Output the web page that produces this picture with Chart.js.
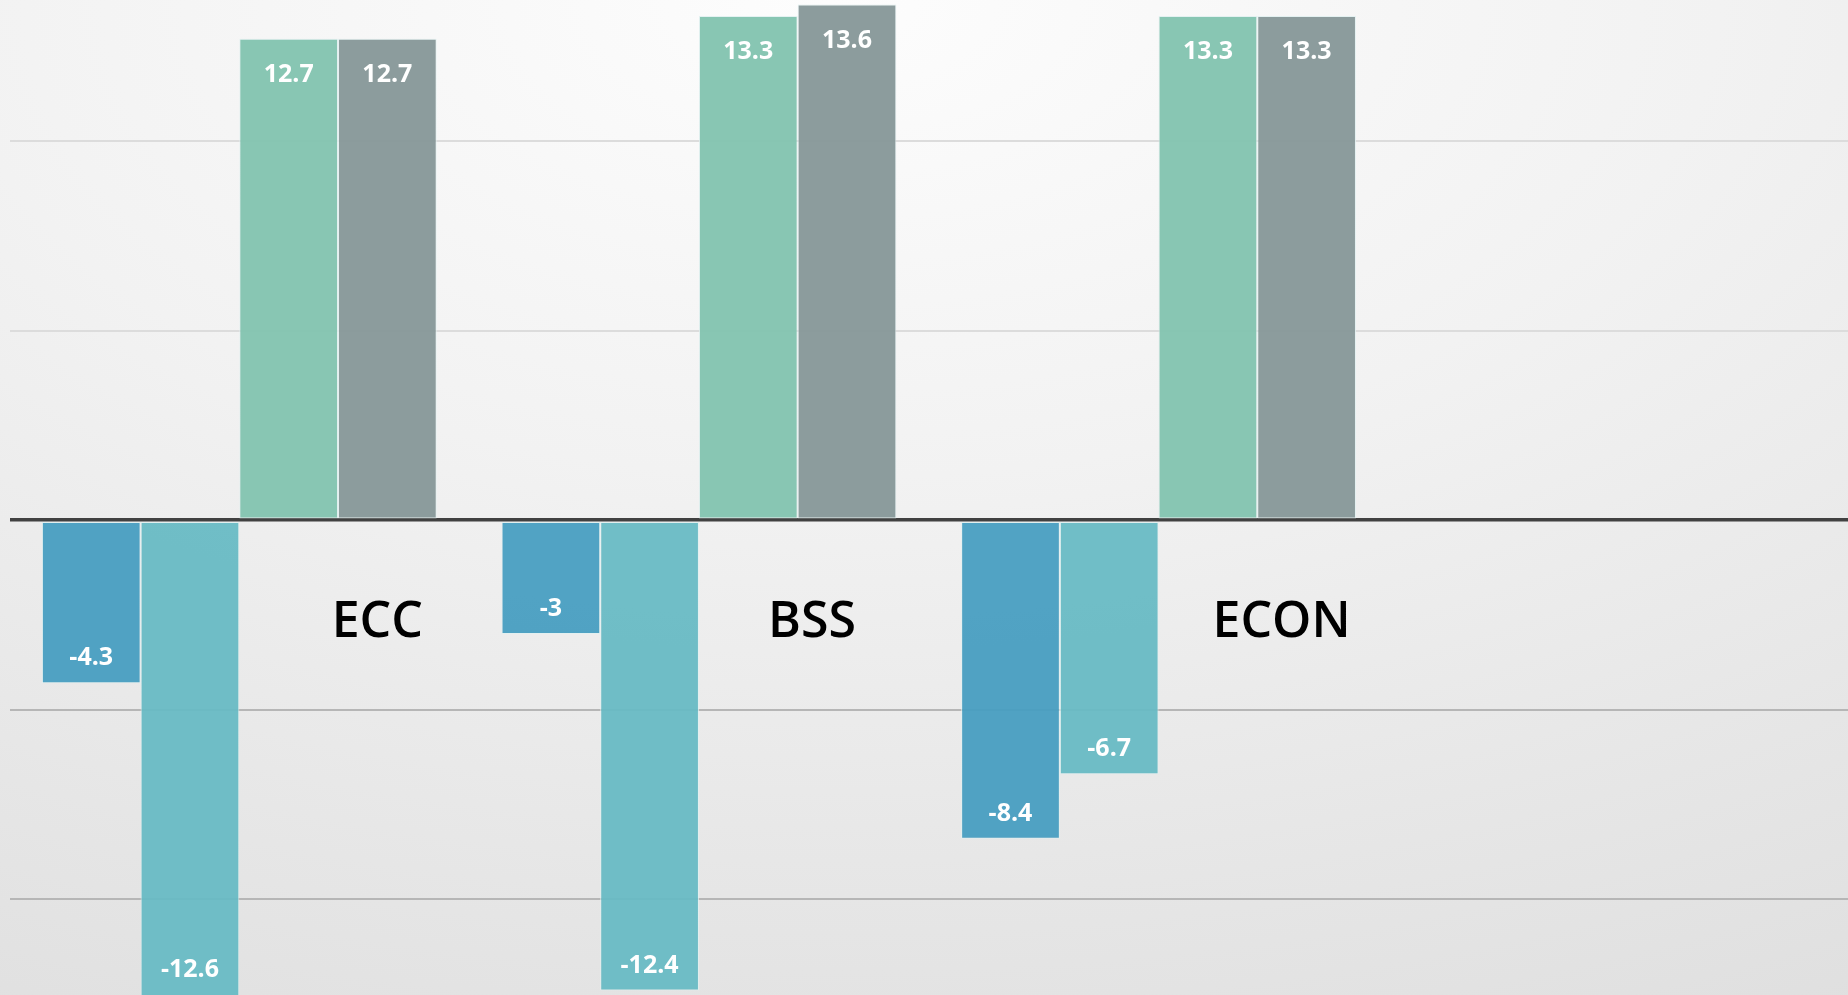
<!DOCTYPE html>
<html>
<head>
<meta charset="utf-8">
<script src="https://cdn.jsdelivr.net/npm/chart.js@4/dist/chart.umd.min.js"></script>
<style>
  html, body { margin: 0; padding: 0; width: 1848px; height: 995px; overflow: hidden; }
  body {
    background: radial-gradient(ellipse 120% 120% at 45% 0%, #fdfdfd 0%, #f2f2f2 40%, #e6e6e6 75%, #dedede 100%);
  }
  #wrap { position: absolute; left: 0; top: 0; width: 1848px; height: 995px; }
</style>
</head>
<body>
<div id="wrap"><canvas id="c"></canvas></div>
<script>
// ---- data ----
const categories = ['ECC', 'BSS', 'ECON', ''];
const seriesA = [-4.3, -3, -8.4, null];     // blue
const seriesB = [-12.6, -12.4, -6.7, null]; // teal
const seriesC = [12.7, 13.3, 13.3, null];   // green
const seriesD = [12.7, 13.6, 13.3, null];   // gray

// ---- plugins ----
const valueLabels = {
  id: 'valueLabels',
  afterDatasetsDraw(chart) {
    const ctx = chart.ctx;
    const area = chart.chartArea;
    ctx.save();
    ctx.fillStyle = '#ffffff';
    ctx.font = 'bold 25px "Open Sans", sans-serif';
    ctx.textAlign = 'center';
    ctx.textBaseline = 'middle';
    chart.data.datasets.forEach((ds, di) => {
      const meta = chart.getDatasetMeta(di);
      meta.data.forEach((el, i) => {
        const v = ds.data[i];
        if (v === null || v === undefined) return;
        let ty;
        if (v >= 0) {
          ty = Math.max(el.y, area.top) + 36;
        } else {
          ty = Math.min(el.y, area.bottom) - 25;
        }
        ctx.fillText(String(v), el.x, ty);
      });
    });
    ctx.restore();
  }
};

const categoryLabels = {
  id: 'categoryLabels',
  afterDatasetsDraw(chart, args, opts) {
    const ctx = chart.ctx;
    const xs = chart.scales.x, ys = chart.scales.y;
    const nudge = opts.nudge || [];
    ctx.save();
    ctx.fillStyle = '#000000';
    ctx.font = '600 50px "Open Sans", sans-serif';
    ctx.textAlign = 'center';
    ctx.textBaseline = 'middle';
    chart.data.labels.forEach((lab, i) => {
      if (!lab) return;
      ctx.fillText(lab, xs.getPixelForValue(i) + (nudge[i] || 0), ys.getPixelForValue(0) + opts.drop);
    });
    ctx.restore();
  }
};

const border = 'rgba(225,240,240,0.85)';
new Chart(document.getElementById('c'), {
  type: 'bar',
  data: {
    labels: categories,
    datasets: [
      { label: 'A', data: seriesA, backgroundColor: 'rgba(72,158,193,0.95)', borderColor: border, borderWidth: 1, borderSkipped: false },
      { label: 'B', data: seriesB, backgroundColor: 'rgba(104,186,196,0.95)', borderColor: border, borderWidth: 1, borderSkipped: false },
      { label: 'C', data: seriesC, backgroundColor: 'rgba(130,195,175,0.95)', borderColor: border, borderWidth: 1, borderSkipped: false },
      { label: 'D', data: seriesD, backgroundColor: 'rgba(134,151,152,0.95)', borderColor: border, borderWidth: 1, borderSkipped: false }
    ]
  },
  options: {
    responsive: true,
    maintainAspectRatio: false,
    animation: false,
    layout: { padding: { left: 9.5, right: 0, top: 0, bottom: 0 } },
    datasets: { bar: { categoryPercentage: 0.859, barPercentage: 1.0 } },
    plugins: {
      legend: { display: false },
      tooltip: { enabled: false },
      categoryLabels: { nudge: [138, 113, 123, 0], drop: 102 }
    },
    scales: {
      x: { display: false },
      y: {
        min: -12.52,
        max: 13.72,
        ticks: { display: false, stepSize: 5 },
        border: { display: false },
        afterBuildTicks(scale) {
          scale.ticks = scale.ticks.filter(t => Math.abs(t.value % 5) < 1e-9);
        },
        afterFit(scale) { scale.width = 0; },
        grid: {
          drawTicks: false,
          color(ctx) {
            const v = ctx.tick.value;
            if (v === 0) return '#414141';
            return v > 0 ? '#dcdcdc' : '#b6b6b6';
          },
          lineWidth(ctx) {
            return ctx.tick.value === 0 ? 3.6 : 2;
          }
        }
      }
    }
  },
  plugins: [valueLabels, categoryLabels]
});
</script>
</body>
</html>
